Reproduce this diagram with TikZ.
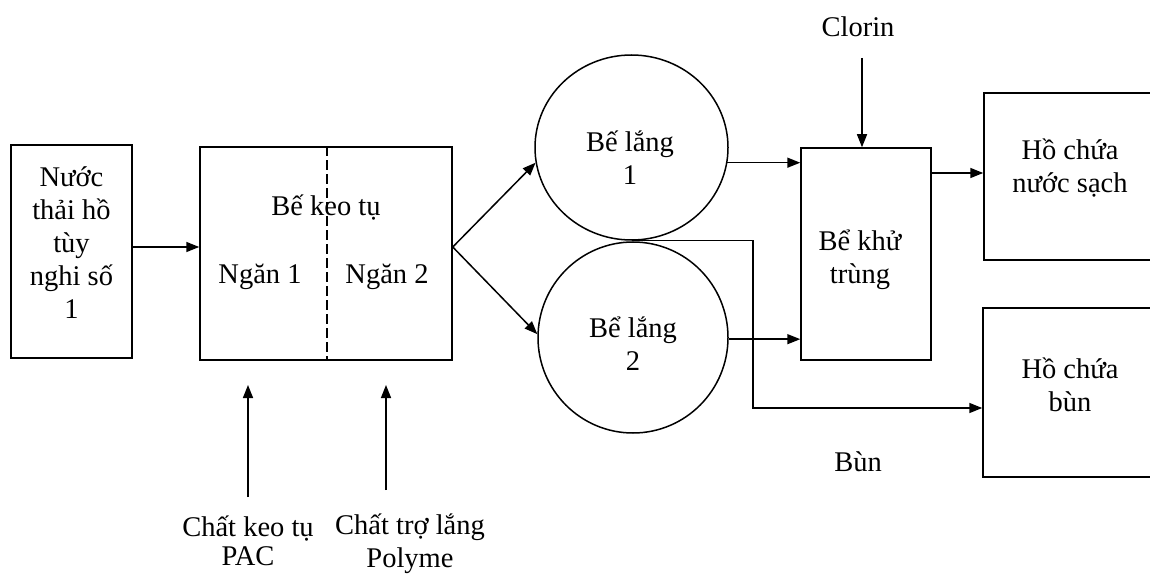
\documentclass[tikz,border=0pt]{standalone}
\usepackage{fontspec}
\setmainfont{Liberation Serif}
\usetikzlibrary{arrows.meta,shapes.geometric}
\begin{document}
\begin{tikzpicture}[x=1pt,y=-1pt,
  font=\fontsize{28.5}{33}\selectfont,
  line width=1.5pt,
  box/.style={draw, rectangle, inner sep=0pt},
  tank/.style={draw, ellipse, inner sep=0pt},
  lbl/.style={align=center, inner sep=0pt},
  arr/.style={-{Triangle[length=13pt,width=10pt]}},
]
\useasboundingbox (0,0) rectangle (1150,577);
\clip (0,0) rectangle (1150,577);

% process units
\node[box, minimum width=121pt, minimum height=213pt] (src) at (71.5,251.5) {};
\node[box, minimum width=252pt, minimum height=213pt] (keo) at (326,253.5) {};
\node[tank, minimum width=193pt, minimum height=185pt] (c1) at (631.5,147.5) {};
\node[tank, minimum width=190pt, minimum height=191pt] (c2) at (633,337.5) {};
\node[box, minimum width=130pt, minimum height=212pt] (khu) at (866,254) {};
\node[box, minimum width=176pt, minimum height=167pt] (sach) at (1072,176.5) {};
\node[box, minimum width=177pt, minimum height=169pt] (bun) at (1071.5,392.5) {};

% chamber divider in the coagulation tank
\draw[dash pattern=on 10pt off 4pt, line width=1.2pt] (keo.north -| 327,0) -- (keo.south -| 327,0);

% texts
\node[lbl] (tsrc) at (71.5,242.5) {Nước\\thải hồ\\tùy\\nghi số\\1};
\node[lbl] (tkeo) at (326,208) {Bế keo tụ};
\node[lbl] (tn1) at (260,277) {Ngăn 1};
\node[lbl] (tn2) at (387,277) {Ngăn 2};
\node[lbl] (tc1) at (630,157.5) {Bế lắng\\1};
\node[lbl] (tc2) at (633,344) {Bể lắng\\2};
\node[lbl] (tkhu) at (860,259.5) {Bể khử\\trùng};
\node[lbl] (tsach) at (1070,168.5) {Hồ chứa\\nước sạch};
\node[lbl] (tbun) at (1070,385) {Hồ chứa\\bùn};
\node[lbl] (clorin) at (858,27) {Clorin};
\node[lbl] (bunlbl) at (858,462) {Bùn};
\node[lbl] (pac) at (248,541) {Chất keo tụ\\[-4pt]PAC};
\node[lbl] (poly) at (410,544) {Chất trợ lắng\\Polyme};

% connector levels and free ends
\coordinate (yin) at (0,247);
\coordinate (ysach) at (0,173);
\coordinate (sl) at (753,408);
\coordinate (cl) at (862,58);
\coordinate (pa) at (248,497);
\coordinate (pb) at (386,490);
\coordinate (ytip) at (0,385);

% flow
\draw[arr] (src.east |- yin) -- (keo.west |- yin);
\draw[arr] (keo.east |- yin) -- (c1.189);
\draw[arr] (keo.east |- yin) -- (c2.178);
\draw[arr] (c1.-9) -- (khu.west |- c1.-9);
\draw[arr] (c2.-1.5) -- (khu.west |- c2.-1.5);
\draw[arr] (c1.south) -| (sl) -- (bun.west |- sl);
\draw[arr] (cl) -- (cl |- khu.north);
\draw[arr] (khu.east |- ysach) -- (sach.west |- ysach);
\draw[arr] (pa) -- (pa |- ytip);
\draw[arr] (pb) -- (pb |- ytip);
\end{tikzpicture}
\end{document}
